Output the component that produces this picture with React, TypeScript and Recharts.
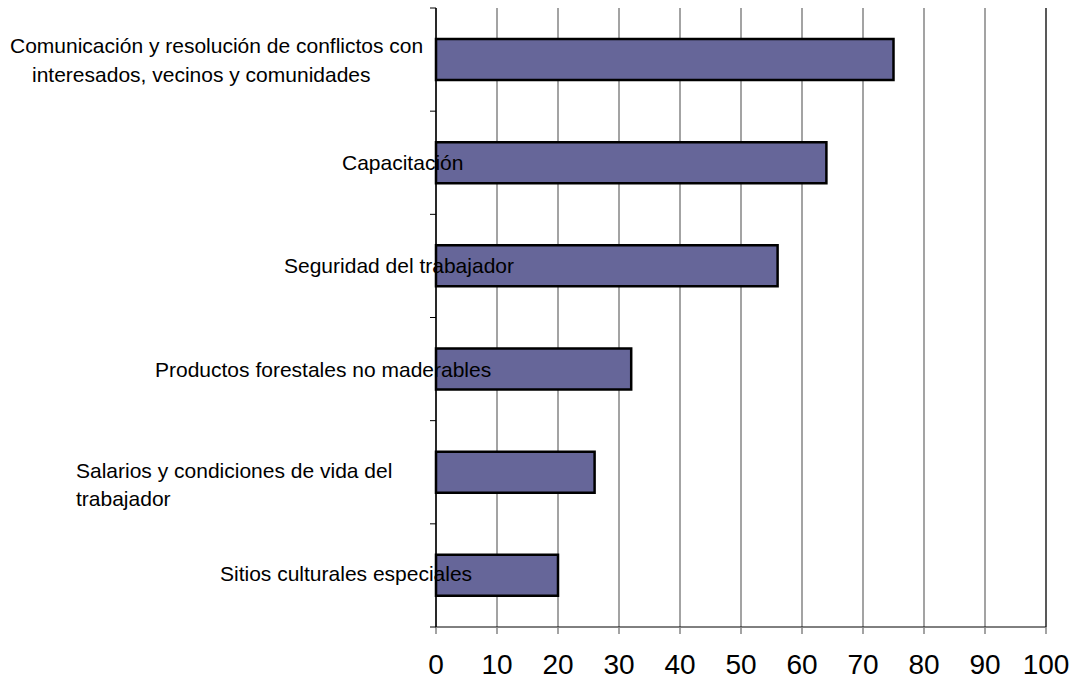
import { BarChart, Bar, XAxis, YAxis, CartesianGrid, ReferenceLine } from "recharts";

const categories = [
  "Comunicación y resolución de conflictos con\ninteresados, vecinos y comunidades",
  "Capacitación",
  "Seguridad del trabajador",
  "Productos forestales no maderables",
  "Salarios y condiciones de vida del\ntrabajador",
  "Sitios culturales especiales",
];
const values = [75, 64, 56, 32, 26, 20];
const xTicks = [0, 10, 20, 30, 40, 50, 60, 70, 80, 90, 100];

const data = categories.map((name, i) => ({ name, value: values[i] }));

// [dx from the axis line to the start of the line, dy from the band centre] per label line
const labelPlacement: [number, number][][] = [
  [[-426, -14], [-404, 15]],
  [[-94, 0]],
  [[-152, 0]],
  [[-281, 0]],
  [[-360, -2], [-360, 26]],
  [[-216, -2]],
];

const FONT = "'Liberation Sans', Arial, Helvetica, sans-serif";

const CategoryTick = (props: any) => {
  const { x, y, payload, index } = props;
  const half = payload.offset ?? 51.6;
  const lines = String(payload.value).split("\n");
  const place = labelPlacement[index] ?? [[-200, 0]];
  return (
    <g>
      <line x1={x - 6} x2={x} y1={y - half} y2={y - half} stroke="#000" strokeWidth={1} />
      {index === categories.length - 1 && (
        <line x1={x - 6} x2={x} y1={y + half} y2={y + half} stroke="#000" strokeWidth={1} />
      )}
      <text fontSize={21} fill="#000" fontFamily={FONT}>
        {lines.map((line, i) => (
          <tspan key={i} x={x + place[i][0]} y={y + place[i][1]} dominantBaseline="central">
            {line}
          </tspan>
        ))}
      </text>
    </g>
  );
};

export default function App() {
  return (
    <div style={{ position: "absolute", left: 0, top: 0, background: "#fff" }}>
      <BarChart
        width={1078}
        height={681}
        data={data}
        layout="vertical"
        margin={{ top: 8, right: 32, bottom: 0, left: 0 }}
      >
        <CartesianGrid horizontal={false} stroke="#858585" strokeWidth={1.5} />
        <Bar
          dataKey="value"
          fill="#666699"
          stroke="#000"
          strokeWidth={2.5}
          barSize={41}
          isAnimationActive={false}
        />
        <ReferenceLine x={100} stroke="#404040" strokeWidth={1.5} />
        <XAxis
          type="number"
          domain={[0, 100]}
          ticks={xTicks}
          interval={0}
          height={54}
          tickSize={7}
          tickMargin={20}
          axisLine={{ stroke: "#000", strokeWidth: 1 }}
          tickLine={{ stroke: "#858585", strokeWidth: 1.5 }}
          tick={{ fontSize: 28, fill: "#000", fontFamily: FONT }}
        />
        <YAxis
          type="category"
          dataKey="name"
          width={436}
          interval={0}
          tickSize={0}
          tickMargin={0}
          tickLine={false}
          axisLine={{ stroke: "#000", strokeWidth: 1.5 }}
          tick={<CategoryTick />}
        />
      </BarChart>
    </div>
  );
}
